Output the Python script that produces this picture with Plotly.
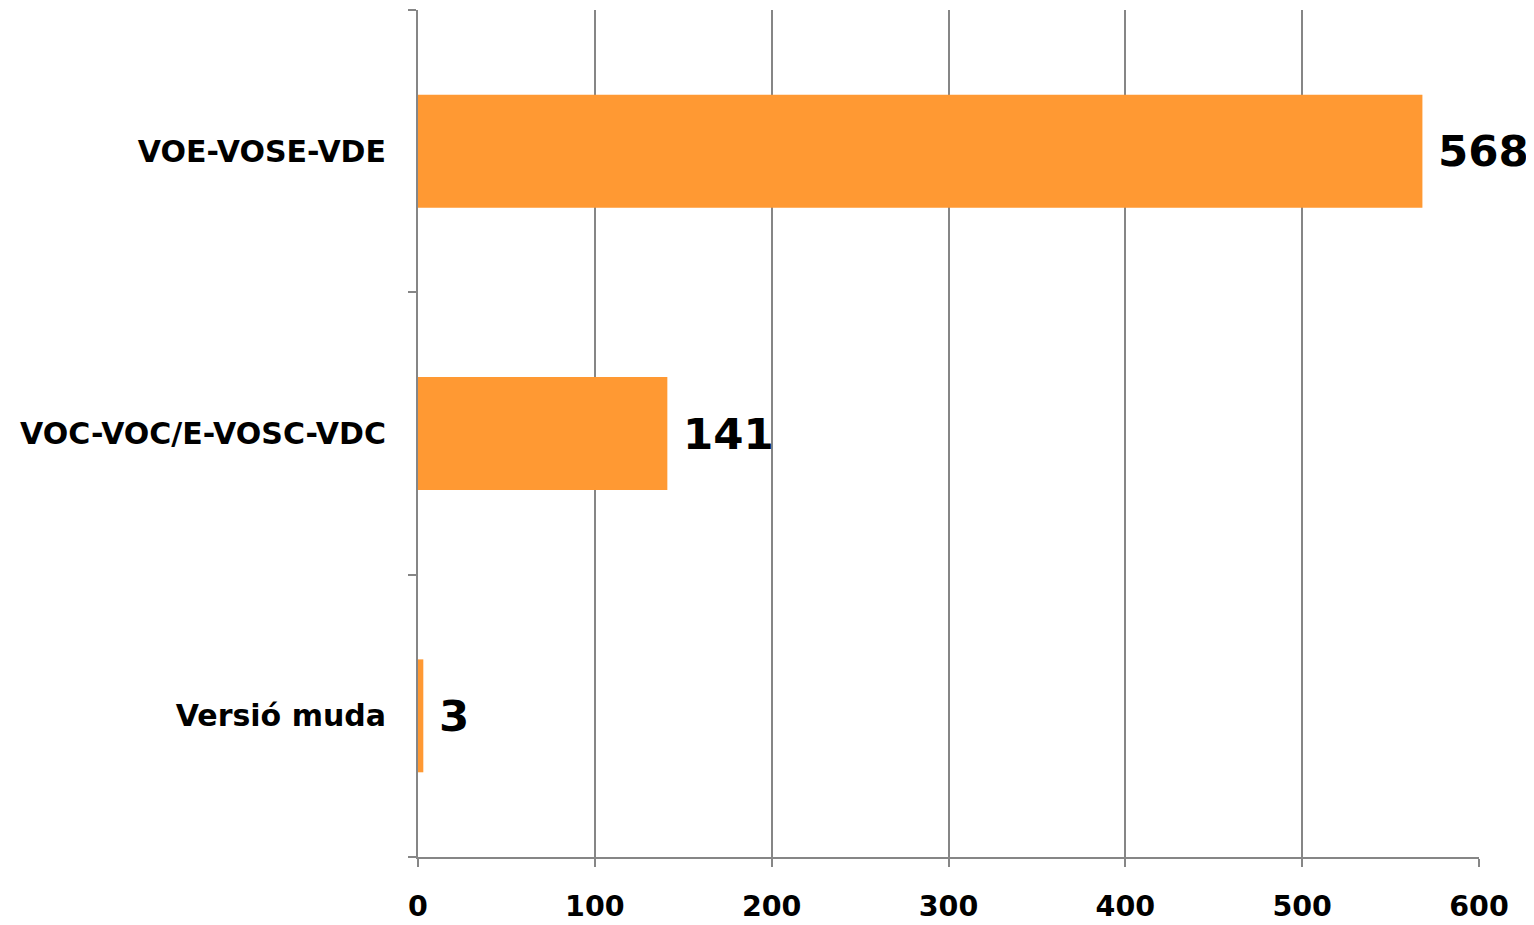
import plotly.graph_objects as go

categories = ["VOE-VOSE-VDE", "VOC-VOC/E-VOSC-VDC", "Versió muda"]
values = [568, 141, 3]
x_ticks = [0, 100, 200, 300, 400, 500, 600]

FONT = "DejaVu Sans"
BAR = "#FF9933"
GRID = "#868686"

fig = go.Figure()
fig.add_trace(go.Bar(
    x=values, y=categories, orientation="h",
    marker=dict(color=BAR, line=dict(width=0)),
    width=0.4, hoverinfo="skip",
))
for c, v in zip(categories, values):
    fig.add_annotation(
        x=v, y=c, text=f"<b>{v}</b>", showarrow=False,
        xanchor="left", yanchor="middle", xshift=14,
        font=dict(family=FONT, size=43.5, color="black"),
    )

fig.update_layout(
    width=1526, height=917,
    margin=dict(l=410, r=55, t=2, b=68, autoexpand=False),
    paper_bgcolor="white", plot_bgcolor="white",
    showlegend=False,
    bargap=0.6,
)
fig.update_xaxes(
    range=[0, 600], tickvals=x_ticks, ticktext=[f"<b>{t}</b>" for t in x_ticks],
    showgrid=True, gridcolor=GRID, gridwidth=2,
    showline=True, linecolor=GRID, linewidth=2,
    ticks="outside", ticklen=8, tickcolor=GRID, tickwidth=2,
    ticklabelstandoff=15,
    tickfont=dict(family=FONT, size=28.5, color="black"),
    zeroline=False, fixedrange=True,
)
fig.update_yaxes(
    categoryorder="array", categoryarray=categories, autorange="reversed",
    showline=True, linecolor=GRID, linewidth=2,
    ticks="outside", ticklen=8, tickcolor=GRID, tickwidth=2,
    tickson="boundaries",
    ticklabelstandoff=24,
    tickfont=dict(family=FONT, size=30, color="black"),
    ticktext=[f"<b>{c}</b>" for c in categories], tickvals=categories,
    showgrid=False, fixedrange=True,
)
fig.write_html("out.html")
